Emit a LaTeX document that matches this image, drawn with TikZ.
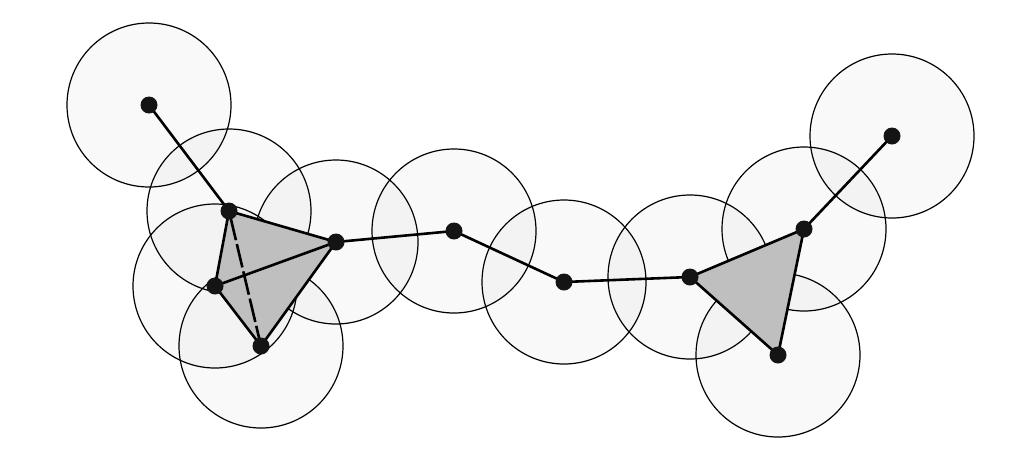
\documentclass[tikz,border=0pt]{standalone}
\begin{document}
\begin{tikzpicture}[x=1pt,y=-1pt,
  ball/.style={draw=black,line width=1.2pt,fill=black,fill opacity=0.025},
  edge/.style={line width=2.6pt},
  face/.style={fill=black!25},
  pt/.style={circle,fill=black!92,inner sep=0pt,minimum size=17pt}]
\useasboundingbox (0,0) rectangle (1024,456);
\coordinate (c1) at (149,105);
\coordinate (c2) at (229,211);
\coordinate (c3) at (215,286);
\coordinate (c4) at (261,346);
\coordinate (c5) at (336,242);
\coordinate (c6) at (454,231);
\coordinate (c7) at (564,282);
\coordinate (c8) at (690,277);
\coordinate (c9) at (804,229);
\coordinate (c10) at (778,355);
\coordinate (c11) at (892,136);
\foreach \i in {1,...,11} \draw[ball] (c\i) circle[radius=82];
\fill[face] (c2) -- (c3) -- (c4) -- (c5) -- cycle;
\fill[face] (c8) -- (c9) -- (c10) -- cycle;
\draw[edge] (c1) -- (c2);
\draw[edge] (c2) -- (c3) -- (c4) -- (c5) -- (c2);
\draw[edge] (c3) -- (c5);
\draw[edge,dash pattern=on 24pt off 4pt,dash phase=-6pt] (c2) -- (c4);
\draw[edge] (c5) -- (c6) -- (c7) -- (c8);
\draw[edge,line join=round] (c8) -- (c9) -- (c10) -- cycle;
\draw[edge] (c9) -- (c11);
\foreach \i in {1,...,11} \node[pt] (p\i) at (c\i) {};
\end{tikzpicture}
\end{document}
